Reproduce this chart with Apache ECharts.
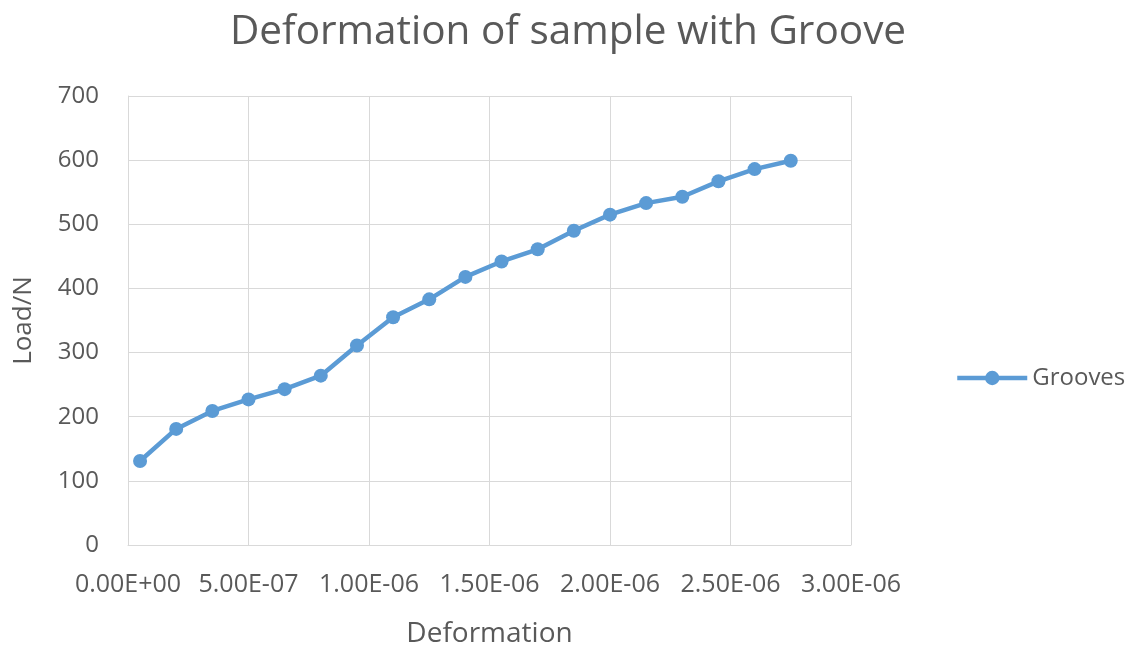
<!DOCTYPE html>
<html><head><meta charset="utf-8">
<script src="https://cdn.jsdelivr.net/npm/echarts@6/dist/echarts.min.js"></script>
<style>html,body{margin:0;padding:0;background:#fff}#c{width:1136px;height:649px}</style>
</head><body><div id="c"></div>
<script>
const deformation = [0.05e-6,0.20e-6,0.35e-6,0.50e-6,0.65e-6,0.80e-6,0.95e-6,1.10e-6,1.25e-6,1.40e-6,1.55e-6,1.70e-6,1.85e-6,2.00e-6,2.15e-6,2.30e-6,2.45e-6,2.60e-6,2.75e-6];
const load = [131,181,209,227,243,264,311,355,383,418,442,461,490,515,533,543,567,586,599];
const seriesName = 'Grooves';
const FONT = '"Open Sans", "Noto Sans", sans-serif';
function sci(v){
  if (Math.abs(v) < 1e-15) return '0.00E+00';
  let e = Math.floor(Math.log10(Math.abs(v)) + 1e-9);
  let m = v / Math.pow(10, e);
  if (Math.abs(m) >= 9.995) { m /= 10; e += 1; }
  const sign = e < 0 ? '-' : '+';
  const ae = Math.abs(e);
  return m.toFixed(2) + 'E' + sign + (ae < 10 ? '0' + ae : ae);
}
const chart = echarts.init(document.getElementById('c'));
chart.setOption({
  animation:false,
  title:{text:'Deformation of sample with Groove',left:563,top:7,textAlign:'center',
    textStyle:{fontFamily:FONT,fontSize:40.5,fontWeight:'normal',color:'#595959'}},
  legend:{orient:'vertical',top:361,left:950,itemWidth:70,itemHeight:18,itemGap:0,
    textStyle:{fontFamily:FONT,fontSize:24,color:'#595959'},
    data:[{name:seriesName,lineStyle:{width:4.5,color:'#5B9BD5'},itemStyle:{color:'#5B9BD5'}}]},
  grid:{left:128,right:285,top:96,bottom:104,containLabel:false,outerBoundsMode:'none'},
  xAxis:{type:'value',min:0,max:3e-6,interval:0.5e-6,
    name:'Deformation',nameLocation:'middle',nameGap:75,
    nameTextStyle:{fontFamily:FONT,fontSize:28,color:'#595959'},
    axisLine:{show:true,lineStyle:{color:'#d9d9d9',width:1}},
    axisTick:{show:false},
    splitLine:{show:true,lineStyle:{color:'#d9d9d9',width:1}},
    axisLabel:{formatter:sci,fontFamily:FONT,fontSize:25,color:'#595959',margin:27}},
  yAxis:{type:'value',min:0,max:700,interval:100,
    name:'Load/N',nameLocation:'middle',nameGap:91,nameRotate:90,
    nameTextStyle:{fontFamily:FONT,fontSize:26,color:'#595959'},
    axisLine:{show:true,lineStyle:{color:'#d9d9d9',width:1}},
    axisTick:{show:false},
    splitLine:{show:true,lineStyle:{color:'#d9d9d9',width:1}},
    axisLabel:{fontFamily:FONT,fontSize:24,color:'#595959',margin:29}},
  series:[{name:seriesName,type:'line',data:deformation.map((x,i)=>[x,load[i]]),
    symbol:'circle',symbolSize:14,
    lineStyle:{color:'#5B9BD5',width:4.5},
    itemStyle:{color:'#5B9BD5'}}]
});
</script></body></html>
